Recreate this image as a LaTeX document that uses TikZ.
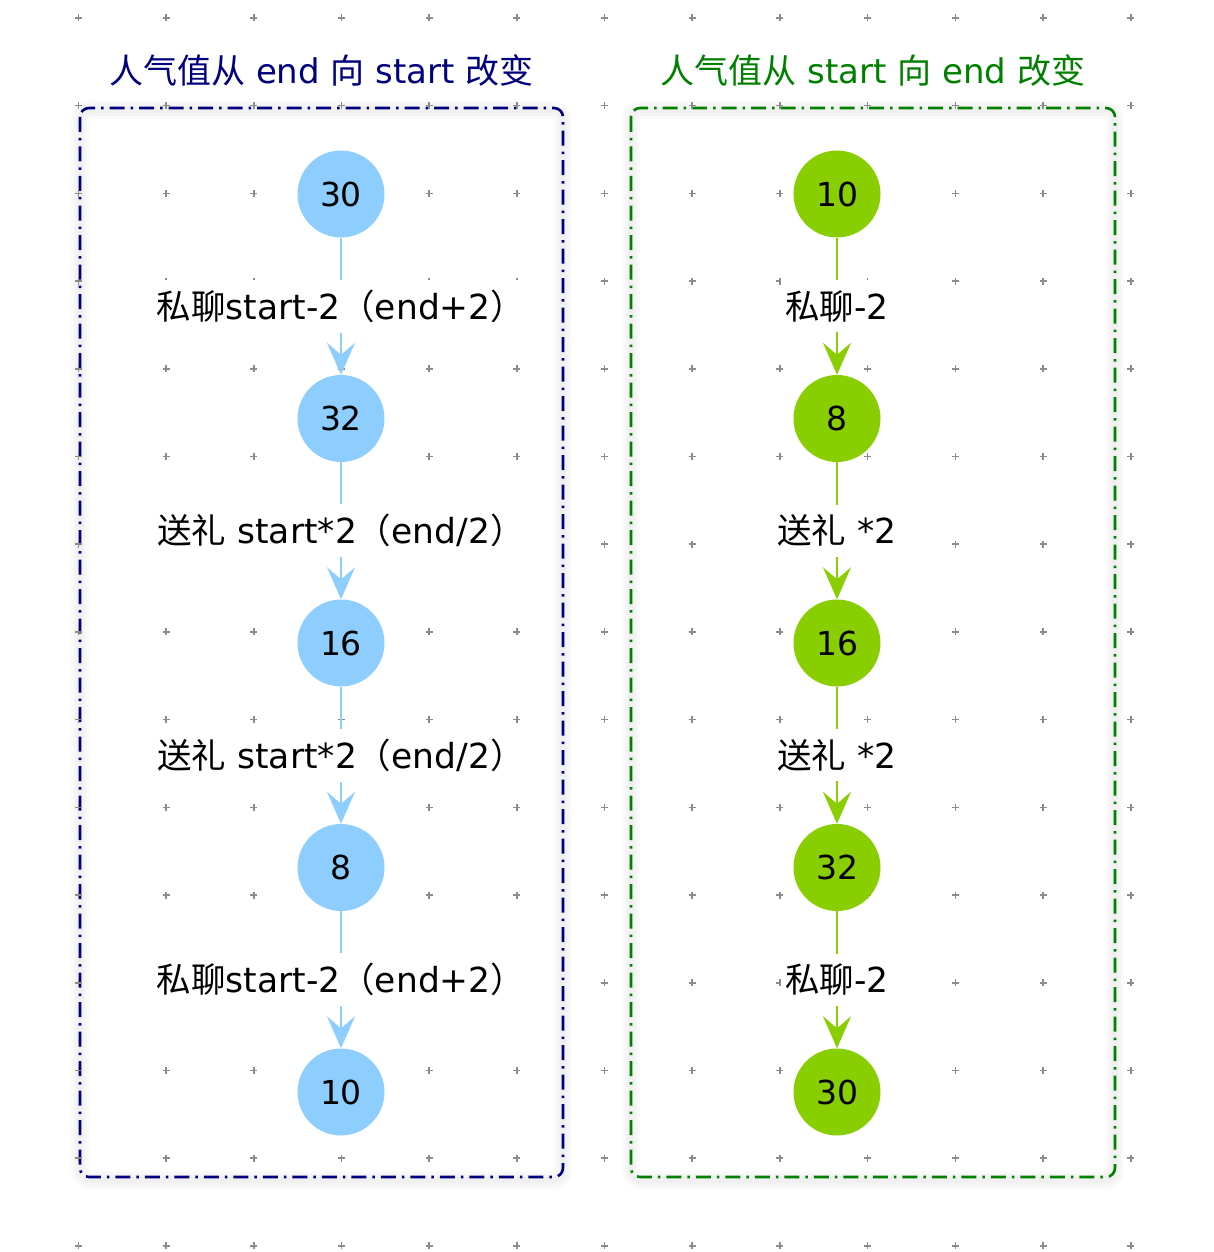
\documentclass[tikz,border=0pt]{standalone}
\usepackage{fontspec}
\setmainfont{DejaVu Sans}
\newfontfamily\cjk{Noto Sans CJK SC}
\usetikzlibrary{arrows.meta}
\definecolor{navyline}{HTML}{00007F}
\definecolor{greenline}{HTML}{008000}
\definecolor{skyfill}{HTML}{8ECEFF}
\definecolor{limefill}{HTML}{88CE00}
\definecolor{dotgray}{HTML}{8C8C8C}
\begin{document}
\begin{tikzpicture}[x=1pt,y=-1pt,
  boxframe/.style={line width=2.6pt,rounded corners=9pt,dash pattern=on 15pt off 6pt on 2.5pt off 6pt},
  boxglow/.style={line width=#1,black,opacity=0.018,rounded corners=10pt},
  boxtitle/.style={font=\fontsize{34}{40}\selectfont},
  numdot/.style={circle,minimum size=87pt,inner sep=0pt,font=\fontsize{33}{38}\selectfont},
  steplabel/.style={fill=white,inner xsep=4pt,inner ysep=10pt,font=\fontsize{34.5}{40}\selectfont,text=black},
  flow/.style={line width=2.3pt,-{Stealth[length=32pt,width=28pt,inset=12pt]}}]
\useasboundingbox (0,0) rectangle (1214,1252);
\foreach \w in {18pt,12pt,6pt}{
\draw[boxglow=\w](80,110) rectangle (563,1180);
\draw[boxglow=\w](631,110) rectangle (1115,1180);
}
\draw[boxframe,navyline](80,108) rectangle (563,1177);
\draw[boxframe,greenline](631,108) rectangle (1115,1177);
\node[boxtitle,text=navyline] (ltitle) at (321.5,70) {{\cjk 人气值从} end {\cjk 向} start {\cjk 改变}};
\node[boxtitle,text=greenline] (rtitle) at (873,70) {{\cjk 人气值从} start {\cjk 向} end {\cjk 改变}};
\foreach \x in {0,...,12}{
\foreach \y in {0,...,14}{
\draw[dotgray,line width=1.6pt]({78.3+87.7*\x-3.5},{18+87.7*\y}) -- ++(7,0) ({78.3+87.7*\x},{18+87.7*\y-3.5}) -- ++(0,7);
}
}
\foreach \v [count=\i] in {30,32,16,8,10}{
\node[numdot,fill=skyfill] (l\i) at (341,{194+224.5*(\i-1)}) {\v};
}
\foreach \v [count=\i] in {10,8,16,32,30}{
\node[numdot,fill=limefill] (r\i) at (837,{194+224.5*(\i-1)}) {\v};
}
\draw[flow,skyfill](l1) -- node[steplabel]{{\cjk 私聊}start-2{\cjk （}end+2{\cjk ）}} (l2);
\draw[flow,skyfill](l2) -- node[steplabel]{{\cjk 送礼} start*2{\cjk （}end/2{\cjk ）}} (l3);
\draw[flow,skyfill](l3) -- node[steplabel]{{\cjk 送礼} start*2{\cjk （}end/2{\cjk ）}} (l4);
\draw[flow,skyfill](l4) -- node[steplabel]{{\cjk 私聊}start-2{\cjk （}end+2{\cjk ）}} (l5);
\draw[flow,limefill](r1) -- node[steplabel]{{\cjk 私聊}-2} (r2);
\draw[flow,limefill](r2) -- node[steplabel]{{\cjk 送礼} *2} (r3);
\draw[flow,limefill](r3) -- node[steplabel]{{\cjk 送礼} *2} (r4);
\draw[flow,limefill](r4) -- node[steplabel]{{\cjk 私聊}-2} (r5);
\end{tikzpicture}
\end{document}
